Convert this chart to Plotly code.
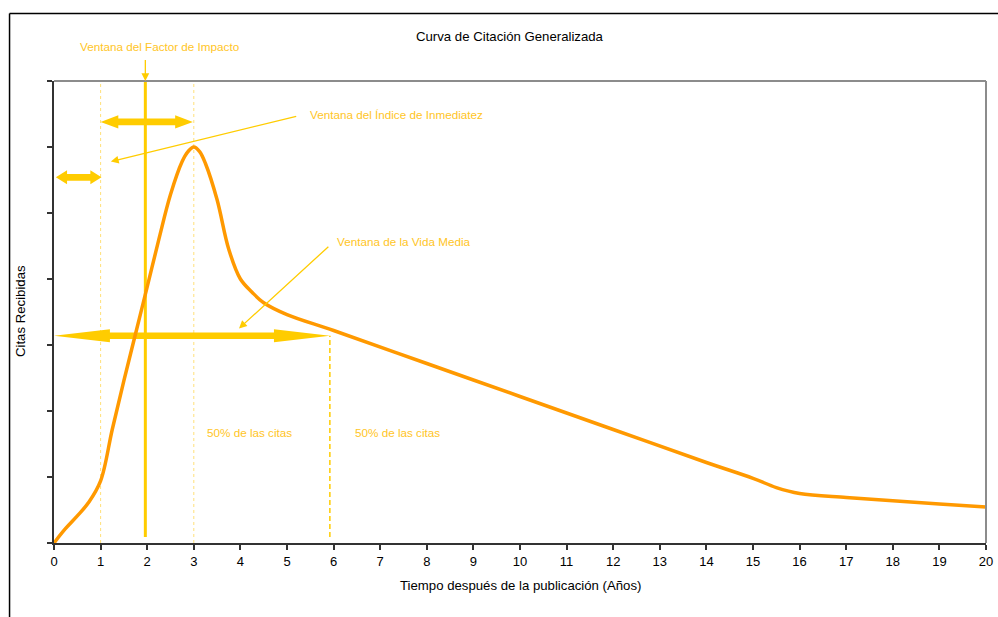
import plotly.graph_objects as go

# ---- data ----
years = [0, 0.25, 0.5, 0.75, 1, 1.25, 1.5, 1.75, 2, 2.25, 2.5, 2.75, 2.875, 3, 3.125,
         3.25, 3.5, 3.75, 4, 4.25, 4.5, 5, 6, 8, 10, 12, 14, 15, 15.5, 16, 17, 18, 19, 20]
citations = [0, 0.22, 0.41, 0.62, 0.94, 1.72, 2.46, 3.17, 3.88, 4.6, 5.28, 5.78, 5.93, 6.0, 5.93,
             5.75, 5.2, 4.45, 4.0, 3.8, 3.64, 3.46, 3.22, 2.72, 2.22, 1.72, 1.22, 0.98, 0.84, 0.75, 0.69, 0.64, 0.59, 0.545]
x_ticks = list(range(0, 21))
y_ticks = list(range(0, 8))

impact_window = [1.0, 2.98]      # years covered by impact factor
impact_line = 1.96
immediacy_window = [0.04, 1.02]
half_life_window = [0.0, 5.92]
dotted_years = [1, 3]

ORANGE = "#FF9900"
GOLD = "#FFCC00"
TEXTGOLD = "#FFC526"
FONT = "Liberation Sans, Arial, sans-serif"

W, H = 998, 617
ML, MR, MT, MB = 54, 12, 81, 74

fig = go.Figure()
fig.add_trace(go.Scatter(x=years, y=citations, mode="lines",
                         line=dict(color=ORANGE, width=3.5, shape="spline", smoothing=1.0),
                         hoverinfo="skip", showlegend=False))

shapes = []
for d in dotted_years:
    shapes.append(dict(type="line", xref="x", yref="y", x0=d, x1=d, y0=0, y1=7,
                       line=dict(color="#FFE07A", width=1, dash="dot"), layer="below"))
shapes.append(dict(type="line", xref="x", yref="y", x0=impact_line, x1=impact_line, y0=0.09, y1=7,
                   line=dict(color=GOLD, width=3), layer="below"))
shapes.append(dict(type="line", xref="x", yref="y", x0=half_life_window[1], x1=half_life_window[1],
                   y0=0.09, y1=3.14, line=dict(color=GOLD, width=1.5, dash="5px,3px"), layer="below"))


def double_arrow(x0, x1, yc, head_len, head_half=0.1, shaft_half=0.05):
    p = (f"M {x0},{yc} L {x0+head_len},{yc+head_half} L {x0+head_len},{yc+shaft_half} "
         f"L {x1-head_len},{yc+shaft_half} L {x1-head_len},{yc+head_half} L {x1},{yc} "
         f"L {x1-head_len},{yc-head_half} L {x1-head_len},{yc-shaft_half} "
         f"L {x0+head_len},{yc-shaft_half} L {x0+head_len},{yc-head_half} Z")
    return dict(type="path", xref="x", yref="y", path=p, fillcolor=GOLD,
                line=dict(width=0), layer="below")


shapes.append(double_arrow(impact_window[0], impact_window[1], 6.38, 0.38))
shapes.append(double_arrow(immediacy_window[0], immediacy_window[1], 5.54, 0.24, head_half=0.106))
shapes.append(double_arrow(half_life_window[0], half_life_window[1], 3.14, 1.2))

shapes.append(dict(type="line", xref="paper", yref="paper", x0=0, x1=1, y0=1, y1=1,
                   line=dict(color="#8C8C8C", width=2)))
shapes.append(dict(type="line", xref="paper", yref="paper", x0=1, x1=1, y0=0, y1=1,
                   line=dict(color="#8C8C8C", width=2)))
shapes.append(dict(type="line", xref="paper", yref="paper", x0=-0.0477, x1=1.03, y0=1.146, y1=1.146,
                   line=dict(color="#000000", width=1.5)))
shapes.append(dict(type="line", xref="paper", yref="paper", x0=-0.0477, x1=-0.0477, y0=-0.2, y1=1.146,
                   line=dict(color="#000000", width=1.5)))

ann = []
tf = dict(family=FONT, size=11.7, color=TEXTGOLD)
ann.append(dict(x=2.27, y=(543-47)/462, xref="x", yref="paper", text="Ventana del Factor de Impacto",
                showarrow=False, font=tf, xanchor="center", yanchor="middle"))
ann.append(dict(x=impact_line, y=7.0, ax=impact_line, ay=7.34, xref="x", yref="y", axref="x", ayref="y",
                text="", showarrow=True, arrowhead=2, arrowsize=1.2, arrowwidth=1.3, arrowcolor=GOLD))
ann.append(dict(x=5.44, y=6.5, xref="x", yref="y", text="Ventana del Índice de Inmediatez",
                showarrow=False, font=tf, xanchor="left", yanchor="middle"))
ann.append(dict(x=1.22, y=5.78, ax=5.23, ay=6.47, xref="x", yref="y", axref="x", ayref="y",
                text="", showarrow=True, arrowhead=2, arrowsize=1.2, arrowwidth=1.3, arrowcolor=GOLD))
ann.append(dict(x=6.02, y=4.57, xref="x", yref="y", text="Ventana de la Vida Media",
                showarrow=False, font=tf, xanchor="left", yanchor="middle"))
ann.append(dict(x=3.97, y=3.25, ax=5.92, ay=4.51, xref="x", yref="y", axref="x", ayref="y",
                text="", showarrow=True, arrowhead=2, arrowsize=1.2, arrowwidth=1.3, arrowcolor=GOLD))
ann.append(dict(x=4.2, y=1.68, xref="x", yref="y", text="50% de las citas",
                showarrow=False, font=tf, xanchor="center", yanchor="middle"))
ann.append(dict(x=7.37, y=1.68, xref="x", yref="y", text="50% de las citas",
                showarrow=False, font=tf, xanchor="center", yanchor="middle"))
bf = dict(family=FONT, size=13.2, color="#000")
ann.append(dict(x=(510-54)/932, y=(543-36)/462, xref="paper", yref="paper",
                text="Curva de Citación Generalizada", showarrow=False,
                font=bf, xanchor="center", yanchor="middle"))
ann.append(dict(x=(520-54)/932, y=(543-585)/462, xref="paper", yref="paper",
                text="Tiempo después de la publicación (Años)", showarrow=False,
                font=bf, xanchor="center", yanchor="middle"))
ann.append(dict(x=(20-54)/932, y=(543-311)/462, xref="paper", yref="paper", textangle=-90,
                text="Citas Recibidas", showarrow=False,
                font=bf, xanchor="center", yanchor="middle"))

fig.update_layout(
    width=W, height=H, autosize=False,
    margin=dict(l=ML, r=MR, t=MT, b=MB),
    paper_bgcolor="white", plot_bgcolor="white",
    shapes=shapes, annotations=ann,
    font=dict(family=FONT, size=13, color="#000"),
    xaxis=dict(range=[0, 20], tickvals=x_ticks, ticktext=[str(t) for t in x_ticks],
               automargin=False,
               showgrid=False, zeroline=False, showline=True, linecolor="#333333", linewidth=2,
               ticks="outside", ticklen=5, tickcolor="#333333", tickwidth=1.5,
               tickfont=dict(family=FONT, size=13, color="#000")),
    yaxis=dict(range=[0, 7], tickvals=y_ticks, showticklabels=False, automargin=False,
               showgrid=False, zeroline=False, showline=True, linecolor="#333333", linewidth=2,
               ticks="outside", ticklen=5, tickcolor="#333333", tickwidth=1.5),
)

# remove the browser's default 8px body margin and scrollbars so the figure fills the window
fig.write_html(
    "out.html",
    config={"responsive": False, "displayModeBar": False},
    post_script=("document.documentElement.style.margin='0';document.body.style.margin='0';"
                 "document.documentElement.style.overflow='hidden';document.body.style.overflow='hidden';"),
)
